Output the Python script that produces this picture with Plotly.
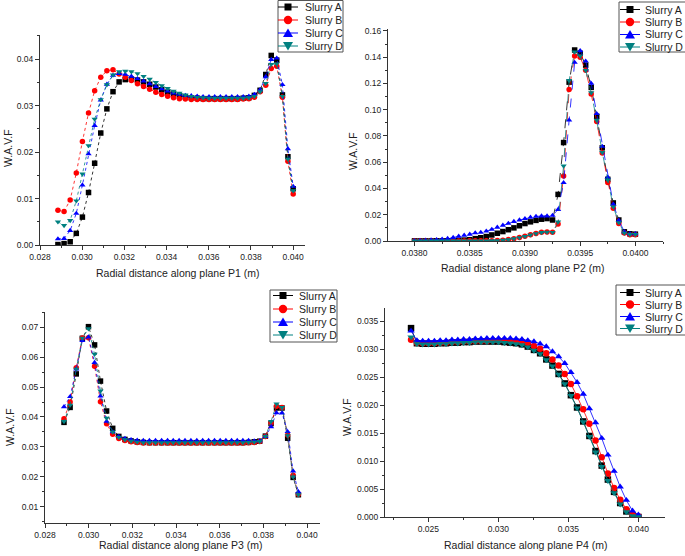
import plotly.graph_objects as go

W, H = 685, 556
FONT = "Liberation Sans, Arial, sans-serif"
INK = "#222222"

SERIES = ["Slurry A", "Slurry B", "Slurry C", "Slurry D"]
COLORS = ["#000000", "#ff0000", "#0000ff", "#008080"]
SYMBOLS = ["square", "circle", "triangle-up", "triangle-down"]

# ── Plane P1 ────────────────────────────────────────────────────────────────
x_p1 = [0.02885, 0.02914, 0.02943, 0.02972, 0.03001, 0.03030, 0.03059, 0.03088,
        0.03117, 0.03146, 0.03175, 0.03204, 0.03233, 0.03262, 0.03291, 0.03320,
        0.03349, 0.03377, 0.03405, 0.03433, 0.03461, 0.03489, 0.03517, 0.03545,
        0.03573, 0.03601, 0.03628, 0.03655, 0.03682, 0.03709, 0.03736, 0.03763,
        0.03790, 0.03816, 0.03843, 0.03870, 0.03896, 0.03922, 0.03949, 0.03975,
        0.04000]
p1_a = [0.0001, 0.0003, 0.0007, 0.0025, 0.0060, 0.0113, 0.0176, 0.0241, 0.0293,
        0.0330, 0.0351, 0.0356, 0.0357, 0.0355, 0.0351, 0.0346, 0.0340, 0.0334,
        0.0329, 0.0325, 0.0321, 0.0319, 0.0317, 0.0316, 0.0315, 0.0315, 0.0315,
        0.0315, 0.0315, 0.0315, 0.0315, 0.0316, 0.0317, 0.0322, 0.0333, 0.0367,
        0.0408, 0.0398, 0.0323, 0.0190, 0.0121]
p1_b = [0.0075, 0.0072, 0.0097, 0.0155, 0.0223, 0.0284, 0.0332, 0.0361, 0.0375,
        0.0377, 0.0368, 0.0361, 0.0354, 0.0347, 0.0341, 0.0335, 0.0329, 0.0324,
        0.0320, 0.0317, 0.0315, 0.0314, 0.0313, 0.0313, 0.0313, 0.0313, 0.0313,
        0.0313, 0.0313, 0.0313, 0.0313, 0.0314, 0.0315, 0.0318, 0.0330, 0.0344,
        0.0380, 0.0385, 0.0318, 0.0180, 0.0110]
p1_c = [0.0013, 0.0014, 0.0031, 0.0068, 0.0129, 0.0196, 0.0257, 0.0312, 0.0346,
        0.0365, 0.0369, 0.0367, 0.0363, 0.0358, 0.0353, 0.0347, 0.0341, 0.0336,
        0.0331, 0.0327, 0.0324, 0.0322, 0.0321, 0.0320, 0.0319, 0.0319, 0.0319,
        0.0319, 0.0319, 0.0319, 0.0319, 0.0319, 0.0320, 0.0324, 0.0334, 0.0362,
        0.0399, 0.0402, 0.0345, 0.0207, 0.0126]
p1_d = [0.0050, 0.0042, 0.0053, 0.0095, 0.0153, 0.0214, 0.0271, 0.0313, 0.0345,
        0.0366, 0.0373, 0.0374, 0.0373, 0.0369, 0.0363, 0.0357, 0.0350, 0.0343,
        0.0337, 0.0331, 0.0327, 0.0323, 0.0320, 0.0318, 0.0317, 0.0316, 0.0316,
        0.0316, 0.0316, 0.0316, 0.0316, 0.0316, 0.0317, 0.0320, 0.0330, 0.0348,
        0.0389, 0.0390, 0.0320, 0.0185, 0.0117]

# ── Plane P2 ────────────────────────────────────────────────────────────────
x_p2 = [0.03800, 0.03805, 0.03810, 0.03815, 0.03820, 0.03825, 0.03830, 0.03835,
        0.03840, 0.03845, 0.03850, 0.03855, 0.03860, 0.03865, 0.03870, 0.03875,
        0.03880, 0.03885, 0.03890, 0.03895, 0.03900, 0.03905, 0.03910, 0.03915,
        0.03920, 0.03925, 0.03930, 0.03935, 0.03940, 0.03945, 0.03950, 0.03955,
        0.03960, 0.03965, 0.03970, 0.03975, 0.03980, 0.03985, 0.03990, 0.03995,
        0.04000]
p2_a = [0.0001, 0.0001, 0.0001, 0.0001, 0.0002, 0.0002, 0.0002, 0.0003, 0.0005,
        0.0007, 0.0010, 0.0018, 0.0025, 0.0034, 0.0046, 0.0059, 0.0072, 0.0086,
        0.0100, 0.0116, 0.0133, 0.0146, 0.0157, 0.0166, 0.0171, 0.0160, 0.0355,
        0.0750, 0.1210, 0.1455, 0.1430, 0.1340, 0.1170, 0.0950, 0.0710, 0.0470,
        0.0290, 0.0160, 0.0070, 0.0055, 0.0052]
p2_b = [0.0000, 0.0000, 0.0000, 0.0000, 0.0000, 0.0000, 0.0000, 0.0000, 0.0000,
        0.0000, 0.0001, 0.0001, 0.0001, 0.0001, 0.0002, 0.0003, 0.0006, 0.0011,
        0.0018, 0.0027, 0.0037, 0.0048, 0.0058, 0.0066, 0.0069, 0.0067, 0.0130,
        0.0495, 0.1154, 0.1410, 0.1400, 0.1300, 0.1120, 0.0910, 0.0670, 0.0445,
        0.0250, 0.0133, 0.0060, 0.0048, 0.0048]
p2_c = [0.0002, 0.0003, 0.0005, 0.0007, 0.0010, 0.0014, 0.0019, 0.0026, 0.0036,
        0.0043, 0.0051, 0.0061, 0.0065, 0.0075, 0.0088, 0.0104, 0.0120, 0.0134,
        0.0148, 0.0160, 0.0170, 0.0180, 0.0187, 0.0190, 0.0190, 0.0195, 0.0240,
        0.0444, 0.0920, 0.1360, 0.1450, 0.1370, 0.1200, 0.0970, 0.0720, 0.0485,
        0.0280, 0.0158, 0.0070, 0.0055, 0.0055]
p2_d = [0.0000, 0.0000, 0.0000, 0.0000, 0.0000, 0.0000, 0.0000, 0.0000, 0.0000,
        0.0000, 0.0001, 0.0001, 0.0001, 0.0001, 0.0002, 0.0003, 0.0006, 0.0011,
        0.0018, 0.0026, 0.0036, 0.0047, 0.0057, 0.0065, 0.0068, 0.0066, 0.0145,
        0.0572, 0.1223, 0.1440, 0.1410, 0.1300, 0.1130, 0.0920, 0.0675, 0.0465,
        0.0260, 0.0140, 0.0060, 0.0050, 0.0050]

# ── Plane P3 ────────────────────────────────────────────────────────────────
x_p3 = [0.02887, 0.02915, 0.02943, 0.02971, 0.02999, 0.03027, 0.03054, 0.03082,
        0.03110, 0.03138, 0.03166, 0.03194, 0.03222, 0.03250, 0.03278, 0.03306,
        0.03334, 0.03361, 0.03387, 0.03414, 0.03441, 0.03468, 0.03495, 0.03522,
        0.03549, 0.03576, 0.03602, 0.03628, 0.03654, 0.03680, 0.03706, 0.03732,
        0.03758, 0.03783, 0.03809, 0.03835, 0.03860, 0.03885, 0.03911, 0.03936,
        0.03960]
p3_a = [0.0382, 0.0432, 0.0544, 0.0663, 0.0702, 0.0641, 0.0520, 0.0420, 0.0362,
        0.0335, 0.0325, 0.0320, 0.0317, 0.0315, 0.0314, 0.0314, 0.0314, 0.0314,
        0.0314, 0.0314, 0.0314, 0.0314, 0.0314, 0.0314, 0.0314, 0.0314, 0.0314,
        0.0314, 0.0314, 0.0314, 0.0314, 0.0315, 0.0317, 0.0319, 0.0336, 0.0378,
        0.0430, 0.0430, 0.0329, 0.0198, 0.0140]
p3_b = [0.0394, 0.0450, 0.0565, 0.0664, 0.0665, 0.0570, 0.0451, 0.0377, 0.0342,
        0.0328, 0.0321, 0.0317, 0.0315, 0.0313, 0.0313, 0.0313, 0.0313, 0.0313,
        0.0313, 0.0313, 0.0313, 0.0313, 0.0313, 0.0313, 0.0313, 0.0313, 0.0313,
        0.0313, 0.0313, 0.0313, 0.0313, 0.0314, 0.0315, 0.0318, 0.0335, 0.0380,
        0.0436, 0.0432, 0.0340, 0.0205, 0.0142]
p3_c = [0.0434, 0.0468, 0.0560, 0.0655, 0.0667, 0.0582, 0.0470, 0.0385, 0.0350,
        0.0335, 0.0328, 0.0324, 0.0322, 0.0321, 0.0321, 0.0321, 0.0321, 0.0321,
        0.0321, 0.0321, 0.0321, 0.0321, 0.0321, 0.0321, 0.0321, 0.0321, 0.0321,
        0.0321, 0.0321, 0.0321, 0.0321, 0.0321, 0.0320, 0.0320, 0.0334, 0.0367,
        0.0414, 0.0413, 0.0351, 0.0219, 0.0150]
p3_d = [0.0385, 0.0440, 0.0560, 0.0664, 0.0695, 0.0610, 0.0487, 0.0396, 0.0350,
        0.0332, 0.0324, 0.0319, 0.0316, 0.0314, 0.0314, 0.0314, 0.0314, 0.0314,
        0.0314, 0.0314, 0.0314, 0.0314, 0.0314, 0.0314, 0.0314, 0.0314, 0.0314,
        0.0314, 0.0314, 0.0314, 0.0314, 0.0315, 0.0316, 0.0318, 0.0335, 0.0385,
        0.0444, 0.0432, 0.0338, 0.0200, 0.0140]

# ── Plane P4 ────────────────────────────────────────────────────────────────
x_p4 = [0.02376, 0.02418, 0.02459, 0.02501, 0.02543, 0.02584, 0.02626, 0.02668,
        0.02710, 0.02751, 0.02793, 0.02835, 0.02876, 0.02918, 0.02960, 0.03001,
        0.03043, 0.03085, 0.03126, 0.03168, 0.03210, 0.03254, 0.03298, 0.03342,
        0.03386, 0.03430, 0.03474, 0.03518, 0.03562, 0.03606, 0.03650, 0.03694,
        0.03738, 0.03782, 0.03826, 0.03870, 0.03914, 0.03958, 0.04000]
p4_a = [0.0338, 0.0311, 0.0310, 0.0310, 0.0310, 0.0311, 0.0311, 0.0312, 0.0312,
        0.0313, 0.0313, 0.0314, 0.0314, 0.0314, 0.0314, 0.0314, 0.0313, 0.0312,
        0.0311, 0.0309, 0.0305, 0.0299, 0.0293, 0.0282, 0.0271, 0.0256, 0.0239,
        0.0218, 0.0196, 0.0171, 0.0145, 0.0118, 0.0092, 0.0067, 0.0045, 0.0025,
        0.0010, 0.0003, 0.0000]
p4_b = [0.0317, 0.0312, 0.0311, 0.0311, 0.0311, 0.0312, 0.0312, 0.0313, 0.0313,
        0.0314, 0.0314, 0.0315, 0.0315, 0.0315, 0.0316, 0.0316, 0.0316, 0.0315,
        0.0315, 0.0314, 0.0312, 0.0306, 0.0301, 0.0293, 0.0282, 0.0271, 0.0256,
        0.0238, 0.0216, 0.0193, 0.0167, 0.0137, 0.0107, 0.0078, 0.0052, 0.0031,
        0.0014, 0.0005, 0.0001]
p4_c = [0.0333, 0.0316, 0.0315, 0.0315, 0.0315, 0.0316, 0.0316, 0.0317, 0.0317,
        0.0318, 0.0318, 0.0319, 0.0319, 0.0320, 0.0320, 0.0320, 0.0320, 0.0320,
        0.0319, 0.0318, 0.0316, 0.0314, 0.0310, 0.0305, 0.0296, 0.0287, 0.0275,
        0.0259, 0.0241, 0.0220, 0.0194, 0.0169, 0.0141, 0.0111, 0.0082, 0.0054,
        0.0030, 0.0011, 0.0004]
p4_d = [0.0322, 0.0310, 0.0309, 0.0309, 0.0309, 0.0310, 0.0310, 0.0311, 0.0311,
        0.0312, 0.0312, 0.0313, 0.0313, 0.0313, 0.0313, 0.0313, 0.0312, 0.0311,
        0.0310, 0.0308, 0.0304, 0.0298, 0.0292, 0.0281, 0.0270, 0.0255, 0.0238,
        0.0217, 0.0195, 0.0170, 0.0144, 0.0116, 0.0090, 0.0065, 0.0043, 0.0023,
        0.0009, 0.0002, 0.0000]


def px(x):
    return x / W


def py(y):
    return 1 - y / H


# panel layout in pixels: axis box, ranges, ticks, titles and legend box
PANELS = [
    dict(ax="", x=x_p1, ys=[p1_a, p1_b, p1_c, p1_d], box=(40, 305, 35, 245),
         xr=[0.028, 0.04056], yr=[0, 0.0452], xdt=0.002, xmin=0.001, xfmt=".3f",
         ydt=0.01, ymin=0.005, yfmt=".2f", dash="dot", msize=5.5,
         xtitle="Radial distance along plane P1 (m)", xt=(177, 273), yt=(8, 148),
         leg=dict(box=(278, 343, 0.5, 52), rows=[7, 20, 33, 46], sym=288, text=304)),
    dict(ax="2", x=x_p2, ys=[p2_a, p2_b, p2_c, p2_d], box=(388, 663, 29, 241),
         xr=[0.03776, 0.04025], yr=[0, 0.1615], xdt=0.0005, xmin=0.00025, xfmt=".4f",
         ydt=0.02, ymin=0.01, yfmt=".2f", dash="dash", msize=5.5,
         xtitle="Radial distance along plane P2 (m)", xt=(522, 268), yt=(353, 151),
         leg=dict(box=(619, 705, 2, 52), rows=[9.5, 22, 34.5, 47], sym=630, text=644)),
    dict(ax="3", x=x_p3, ys=[p3_a, p3_b, p3_c, p3_d], box=(45, 320, 312, 523),
         xr=[0.028, 0.04059], yr=[0.00455, 0.0751], xdt=0.002, xmin=0.001, xfmt=".3f",
         ydt=0.01, ymin=0.005, yfmt=".2f", dash="dot", msize=5.5,
         xtitle="Radial distance along plane P3 (m)", xt=(180, 545), yt=(10, 427),
         leg=dict(box=(270, 337, 290, 342), rows=[295.5, 309, 322, 335], sym=283, text=298)),
    dict(ax="4", x=x_p4, ys=[p4_a, p4_b, p4_c, p4_d], box=(385, 665, 308, 517),
         xr=[0.0219, 0.0419], yr=[0, 0.0374], xdt=0.005, xmin=0.0025, xfmt=".3f",
         ydt=0.005, ymin=0.0025, yfmt=".3f", dash="solid", msize=6.5,
         xtitle="Radial distance along plane P4 (m)", xt=(525, 545), yt=(347, 417),
         leg=dict(box=(616, 705, 285, 335), rows=[292.5, 304.5, 316.5, 328.5], sym=630, text=644)),
]

AXIS = dict(
    showline=True, linecolor="#333333", linewidth=1,
    ticks="outside", ticklen=4, tickwidth=1, tickcolor="#333333",
    showgrid=False, zeroline=False, mirror=False,
    tickfont=dict(family=FONT, size=8.5, color=INK),
)


def legend_shapes(leg):
    x0, x1, y0, y1 = leg["box"]
    shapes = [dict(type="rect", xref="paper", yref="paper",
                   x0=px(x0), x1=px(x1), y0=py(y1), y1=py(y0),
                   line=dict(color="#555555", width=1), fillcolor="white")]
    notes = []
    sx = leg["sym"]
    for name, col, sym, ry in zip(SERIES, COLORS, SYMBOLS, leg["rows"]):
        shapes.append(dict(type="line", xref="paper", yref="paper",
                           x0=px(sx - 10), x1=px(sx + 10), y0=py(ry), y1=py(ry),
                           line=dict(color=col, width=1)))
        if sym == "square":
            shapes.append(dict(type="rect", xref="paper", yref="paper",
                               x0=px(sx - 3.5), x1=px(sx + 3.5),
                               y0=py(ry + 3.5), y1=py(ry - 3.5),
                               fillcolor=col, line=dict(width=0)))
        elif sym == "circle":
            shapes.append(dict(type="circle", xref="paper", yref="paper",
                               x0=px(sx - 4.2), x1=px(sx + 4.2),
                               y0=py(ry + 4.2), y1=py(ry - 4.2),
                               fillcolor=col, line=dict(width=0)))
        else:
            s = -1 if sym == "triangle-up" else 1
            pts = [(sx, ry + s * 4.5), (sx + 5, ry - s * 4), (sx - 5, ry - s * 4)]
            path = "M " + " L ".join(f"{px(a):.5f},{py(b):.5f}" for a, b in pts) + " Z"
            shapes.append(dict(type="path", xref="paper", yref="paper", path=path,
                               fillcolor=col, line=dict(width=0)))
        notes.append(dict(text=name, xref="paper", yref="paper",
                          x=px(leg["text"]), y=py(ry), xanchor="left", yanchor="middle",
                          showarrow=False, borderpad=0,
                          font=dict(family=FONT, size=10.5, color=INK)))
    return shapes, notes


fig = go.Figure()
layout = dict(
    width=W, height=H,
    margin=dict(l=0, r=0, t=0, b=0, autoexpand=False),
    paper_bgcolor="white", plot_bgcolor="white",
    showlegend=False, font=dict(family=FONT, color=INK),
)
shapes, notes = [], []

for p in PANELS:
    l, r, t, b = p["box"]
    xa, ya = "x" + p["ax"], "y" + p["ax"]
    for name, col, sym, yv in zip(SERIES, COLORS, SYMBOLS, p["ys"]):
        fig.add_trace(go.Scatter(
            x=p["x"], y=yv, name=name, xaxis=xa, yaxis=ya,
            mode="lines+markers",
            line=dict(color=col, width=0.8, dash=p["dash"]),
            marker=dict(symbol=sym, color=col, size=p["msize"], line=dict(width=0)),
        ))
    layout["xaxis" + p["ax"]] = dict(
        AXIS, domain=[px(l), px(r)], anchor=ya, range=p["xr"],
        tick0=0, dtick=p["xdt"], tickformat=p["xfmt"],
        minor=dict(ticks="outside", ticklen=2, dtick=p["xmin"], tick0=0,
                   tickcolor="#333333", showgrid=False),
    )
    layout["yaxis" + p["ax"]] = dict(
        AXIS, domain=[py(b), py(t)], anchor=xa, range=p["yr"],
        tick0=0, dtick=p["ydt"], tickformat=p["yfmt"],
        minor=dict(ticks="outside", ticklen=2, dtick=p["ymin"], tick0=0,
                   tickcolor="#333333", showgrid=False),
    )
    notes.append(dict(text=p["xtitle"], xref="paper", yref="paper",
                      x=px(p["xt"][0]), y=py(p["xt"][1]), showarrow=False,
                      xanchor="center", yanchor="middle",
                      font=dict(family=FONT, size=10.5, color=INK)))
    notes.append(dict(text="W.A.V.F", xref="paper", yref="paper", textangle=-90,
                      x=px(p["yt"][0]), y=py(p["yt"][1]), showarrow=False,
                      xanchor="center", yanchor="middle",
                      font=dict(family=FONT, size=10.5, color=INK)))
    s, n = legend_shapes(p["leg"])
    shapes += s
    notes += n

layout["shapes"] = shapes
layout["annotations"] = notes
fig.update_layout(**layout)

# the page body keeps its default 8px margin otherwise, which shifts the chart
fig.write_html("out.html",
               config={"displayModeBar": False},
               post_script="document.body.style.margin='0';"
                           "document.body.style.overflow='hidden';")
